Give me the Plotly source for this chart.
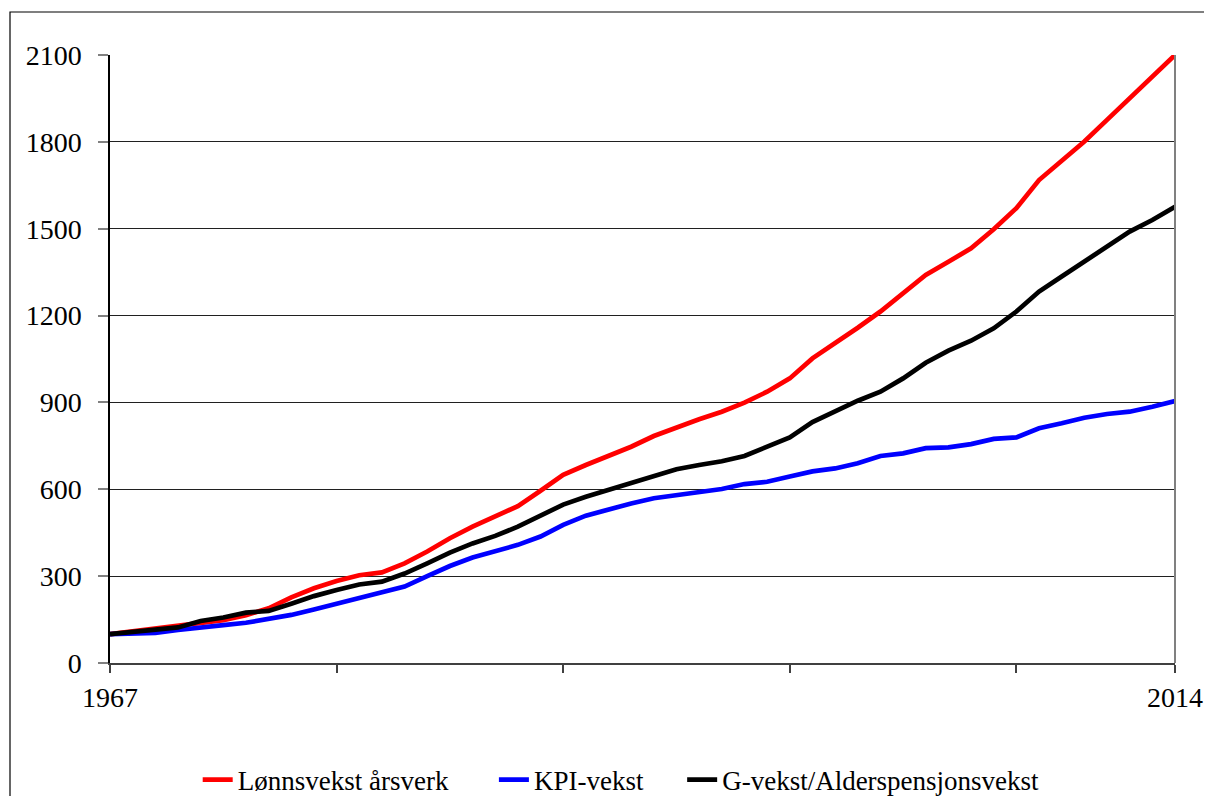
import plotly.graph_objects as go

years = list(range(1967, 2015))

lonn = [100, 110, 118, 126, 136, 148, 165, 189, 227, 258,
        283, 303, 313, 344, 385, 431, 471, 505, 542, 595,
        650, 684, 715, 747, 784, 814, 842, 868, 899, 937,
        983, 1052, 1104, 1158, 1214, 1277, 1340, 1386, 1432, 1498,
        1571, 1668, 1737, 1801, 1876, 1950, 2029, 2100]

kpi = [100, 102, 104, 114, 124, 131, 139, 152, 166, 185,
       204, 226, 241, 264, 300, 335, 364, 385, 408, 437,
       477, 509, 531, 551, 569, 580, 592, 601, 618, 626,
       644, 662, 672, 690, 715, 724, 742, 745, 756, 774,
       779, 811, 828, 847, 860, 868, 885, 905]

gvekst = [100, 108, 116, 123, 145, 157, 174, 180, 205, 231,
          252, 271, 281, 309, 344, 381, 413, 439, 471, 511,
          547, 574, 598, 621, 647, 669, 684, 697, 715, 745,
          779, 832, 868, 906, 937, 983, 1037, 1079, 1113, 1156,
          1214, 1283, 1335, 1386, 1438, 1490, 1530, 1576]

series_names = ["Lønnsvekst årsverk", "KPI-vekst", "G-vekst/Alderspensjonsvekst"]
series_values = [lonn, kpi, gvekst]
series_colors = ["#ff0000", "#0000ff", "#000000"]

x_tickvals = [1967, 1977, 1987, 1997, 2007, 2014]
x_ticktext = ["1967", "", "", "", "", "2014"]
y_tickvals = [0, 300, 600, 900, 1200, 1500, 1800, 2100]

FONT = "Liberation Serif, Times New Roman, serif"
pads = ["\u00a0" * 6, "\u00a0" * 5, ""]

fig = go.Figure()
for name, vals, col, pad in zip(series_names, series_values, series_colors, pads):
    fig.add_trace(go.Scatter(x=years, y=vals, mode="lines", name=name + pad,
                             line=dict(color=col, width=4.7)))

OFF = 8  # body margin of the html page
W, H = 1240, 840
L, R, T, B = 110 - OFF, 1175 - OFF, 55 - OFF, 663 - OFF
fig.update_layout(
    width=W, height=H,
    margin=dict(l=L, r=W - R, t=T, b=H - B, pad=0),
    paper_bgcolor="white", plot_bgcolor="white",
    font=dict(family=FONT, size=28, color="black"),
    showlegend=True,
    legend=dict(orientation="h", x=0.48, xanchor="center", y=-0.1924, yanchor="middle",
                font=dict(family=FONT, size=27, color="black"),
                bgcolor="rgba(0,0,0,0)",
                itemwidth=30, tracegroupgap=0, traceorder="normal"),
    xaxis=dict(range=[1967, 2014], tickvals=x_tickvals, ticktext=x_ticktext,
               showgrid=False, zeroline=False, showline=True, linecolor="#404040",
               linewidth=2, ticks="outside", ticklen=8, tickcolor="#404040",
               tickwidth=1.5, ticklabelstandoff=0, mirror=False, automargin=False),
    yaxis=dict(range=[0, 2100], tickvals=y_tickvals, showgrid=True,
               gridcolor="#202020", gridwidth=1, zeroline=False, showline=True,
               linecolor="#000000", linewidth=1.5, ticks="outside", ticklen=10,
               tickcolor="#808080", tickwidth=1.5, ticklabelstandoff=11, automargin=False),
)

# right border of plot area (gray)
fig.add_shape(type="line", xref="paper", yref="paper", x0=1, x1=1, y0=0, y1=1,
              line=dict(color="#808080", width=2))
# outer chart frame (its right and bottom edges lie outside the visible window)
fx0 = (10 - OFF - L) / (R - L)
fy1 = (B - (12 - OFF)) / (B - T)
fx1 = (1212 + 10 - OFF - L) / (R - L)
fy0 = (B - (796 + 10 - OFF)) / (B - T)
fig.add_shape(type="rect", xref="paper", yref="paper", x0=fx0, x1=fx1, y0=fy0, y1=fy1,
              line=dict(color="#000000", width=1.2), layer="below")

fig.write_html("out.html")
